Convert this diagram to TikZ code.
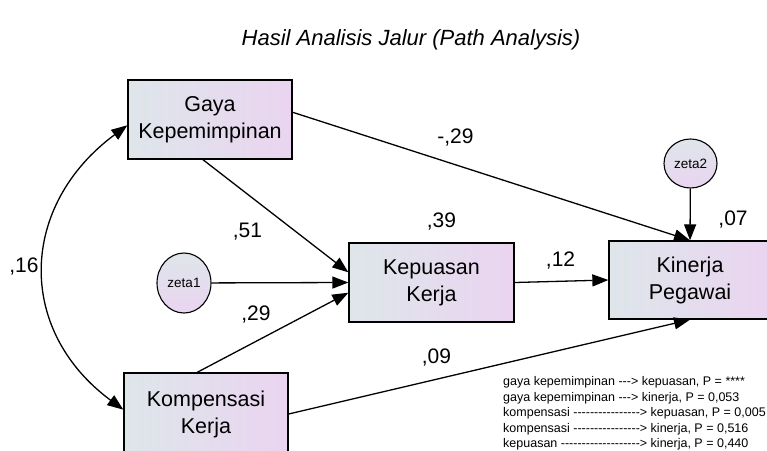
\documentclass[tikz,border=0pt]{standalone}
\usepackage{fontspec}
\setmainfont{Liberation Sans}
\newfontfamily\legendfont{Liberation Sans}[Ligatures=TeXOff]
\usetikzlibrary{arrows.meta, shapes.geometric}
\definecolor{boxleft}{HTML}{DEE6EA}
\definecolor{boxright}{HTML}{EAD4F0}
\begin{document}
\begin{tikzpicture}[x=1pt, y=-1pt,
  box/.style={draw, line width=1.3pt, left color=boxleft, right color=boxright, align=center, font=\fontsize{21.5}{27}\selectfont, inner sep=0pt, minimum width=164pt, minimum height=79pt},
  err/.style={draw, ellipse, line width=1.1pt, top color=boxleft, bottom color=boxright, inner sep=0pt, font=\fontsize{13.5}{15}\selectfont},
  arrow/.style={-{Triangle[length=16pt, width=12pt]}, line width=1.3pt},
  coef/.style={font=\fontsize{21}{23}\selectfont, inner sep=0pt}
]
\useasboundingbox (0,0) rectangle (767,450);
\node[font=\itshape\fontsize{22}{24}\selectfont] (title) at (411,40) {Hasil Analisis Jalur (Path Analysis)};
\node[box] (gaya) at (210,119.5) {Gaya\\Kepemimpinan};
\node[box, minimum width=165pt] (kepuasan) at (431.5,282.5) {Kepuasan\\Kerja};
\node[box, minimum width=162pt, minimum height=78pt] (kinerja) at (690,280) {Kinerja\\Pegawai};
\node[box, minimum height=82pt] (kompensasi) at (206,414) {Kompensasi\\Kerja};
\node[err, minimum width=54pt, minimum height=60pt] (zeta1) at (184,283) {zeta1};
\node[err, minimum width=53pt, minimum height=49pt] (zeta2) at (690.5,163.5) {zeta2};
\draw[arrow] (gaya.260) -- (kepuasan.173);
\draw[arrow] (zeta1) -- (kepuasan.west);
\draw[arrow] (kompensasi.102) -- (kepuasan.187);
\draw[arrow] (kepuasan.east) -- (kinerja.west);
\draw[arrow] (gaya.5) -- (kinerja.north);
\draw[arrow] (kompensasi.east) -- (kinerja.south);
\draw[arrow] (zeta2) -- (kinerja.north);
\draw[{Triangle[length=16pt, width=12pt]}-{Triangle[length=16pt, width=12pt]}, line width=1.3pt]
  (gaya.184) .. controls +(-108,80) and +(-108,-80) .. (kompensasi.177);
% koefisien jalur
\node[coef] (c16) at (24,267) {,16};
\node[coef] (c51) at (247.5,232) {,51};
\node[coef] (c29b) at (256,315) {,29};
\node[coef] (c39) at (441.5,222) {,39};
\node[coef] (c12) at (560.5,261) {,12};
\node[coef] (c29a) at (455.5,137.5) {-,29};
\node[coef] (c09) at (436.5,357.5) {,09};
\node[coef] (c07) at (733,220) {,07};
% nilai P
\node[anchor=north west, align=left, font=\legendfont\fontsize{12.5}{15.5}\selectfont, inner sep=0pt] (pval) at (503,376.5) {%
gaya kepemimpinan ---> kepuasan, P = ****\\
gaya kepemimpinan ---> kinerja, P = 0,053\\
kompensasi ----------------> kepuasan, P = 0,005\\
kompensasi ----------------> kinerja, P = 0,516\\
kepuasan -------------------> kinerja, P = 0,440};
\end{tikzpicture}
\end{document}
